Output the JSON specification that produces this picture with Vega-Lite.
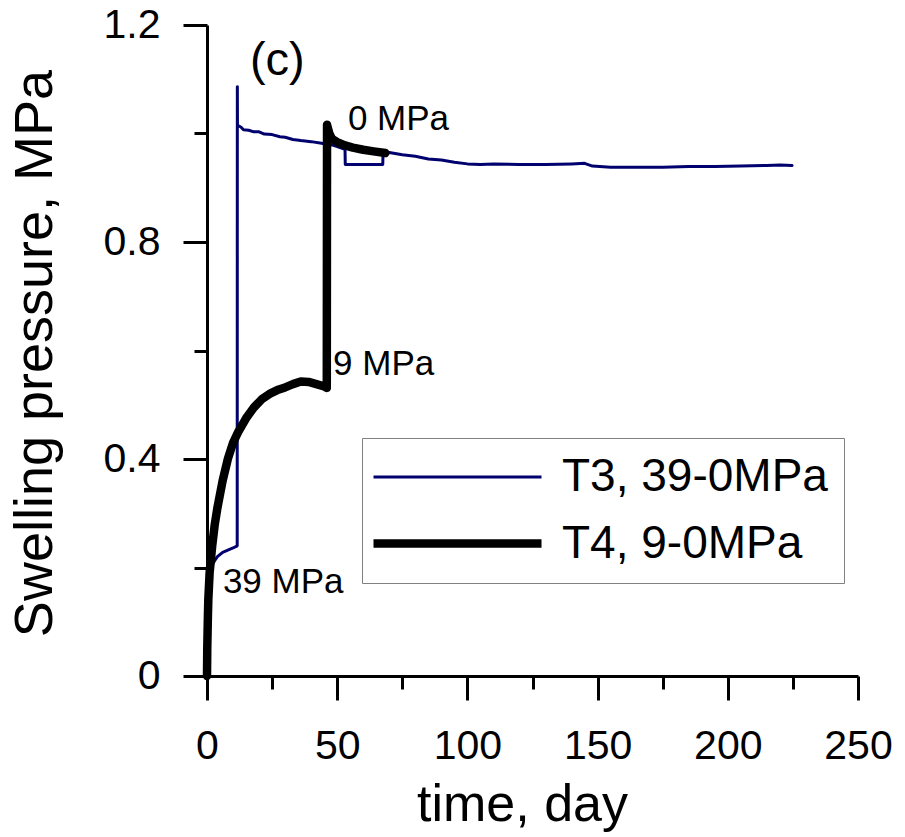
{
  "$schema": "https://vega.github.io/schema/vega-lite/v6.json",
  "autosize": {"type": "none"},
  "padding": {"left": 207, "top": 25, "right": 47, "bottom": 161},
  "width": 651,
  "height": 651,
  "background": "white",
  "config": {
    "view": {"stroke": null},
    "font": "Liberation Sans",
    "axis": {
      "grid": false,
      "domainColor": "black",
      "domainWidth": 3,
      "tickColor": "black",
      "tickWidth": 3,
      "tickSize": 24,
      "labelColor": "black",
      "titleColor": "black",
      "labelFont": "Liberation Sans",
      "titleFont": "Liberation Sans",
      "labelFontSize": 41,
      "titleFontSize": 52,
      "titleFontWeight": "normal"
    },
    "legend": {
      "title": null,
      "orient": "none",
      "legendX": 155,
      "legendY": 413,
      "symbolType": "M-1,0L7,0",
      "symbolSize": 1764,
      "symbolOffset": -9,
      "labelFontSize": 46,
      "labelFont": "Liberation Sans",
      "labelColor": "black",
      "labelLimit": 500,
      "labelOffset": 142,
      "padding": 16,
      "rowPadding": 18,
      "strokeColor": "#808080",
      "fillColor": "white"
    }
  },
  "resolve": {"axis": {"x": "independent", "y": "independent"}},
  "layer": [
    {
      "data": {"values": [
        {"series": "T3, 39-0MPa", "t": 0, "p": 0},
        {"series": "T3, 39-0MPa", "t": 0.2, "p": 0.08},
        {"series": "T3, 39-0MPa", "t": 0.5, "p": 0.15},
        {"series": "T3, 39-0MPa", "t": 1, "p": 0.19},
        {"series": "T3, 39-0MPa", "t": 2, "p": 0.205},
        {"series": "T3, 39-0MPa", "t": 3, "p": 0.213},
        {"series": "T3, 39-0MPa", "t": 4, "p": 0.22},
        {"series": "T3, 39-0MPa", "t": 6, "p": 0.228},
        {"series": "T3, 39-0MPa", "t": 8, "p": 0.232},
        {"series": "T3, 39-0MPa", "t": 10, "p": 0.236},
        {"series": "T3, 39-0MPa", "t": 11.6, "p": 0.24},
        {"series": "T3, 39-0MPa", "t": 11.65, "p": 1.086},
        {"series": "T3, 39-0MPa", "t": 11.7, "p": 1.015},
        {"series": "T3, 39-0MPa", "t": 13, "p": 1.012},
        {"series": "T3, 39-0MPa", "t": 14, "p": 1.007},
        {"series": "T3, 39-0MPa", "t": 16, "p": 1.006},
        {"series": "T3, 39-0MPa", "t": 18, "p": 1.003},
        {"series": "T3, 39-0MPa", "t": 20, "p": 1.003},
        {"series": "T3, 39-0MPa", "t": 22, "p": 0.999},
        {"series": "T3, 39-0MPa", "t": 25, "p": 0.998},
        {"series": "T3, 39-0MPa", "t": 28, "p": 0.994},
        {"series": "T3, 39-0MPa", "t": 30, "p": 0.993},
        {"series": "T3, 39-0MPa", "t": 33, "p": 0.989},
        {"series": "T3, 39-0MPa", "t": 36, "p": 0.987},
        {"series": "T3, 39-0MPa", "t": 40, "p": 0.985},
        {"series": "T3, 39-0MPa", "t": 44, "p": 0.982},
        {"series": "T3, 39-0MPa", "t": 48, "p": 0.979},
        {"series": "T3, 39-0MPa", "t": 50, "p": 0.976},
        {"series": "T3, 39-0MPa", "t": 53, "p": 0.971},
        {"series": "T3, 39-0MPa", "t": 53.1, "p": 0.943},
        {"series": "T3, 39-0MPa", "t": 60, "p": 0.943},
        {"series": "T3, 39-0MPa", "t": 67.5, "p": 0.943},
        {"series": "T3, 39-0MPa", "t": 67.6, "p": 0.964},
        {"series": "T3, 39-0MPa", "t": 70, "p": 0.965},
        {"series": "T3, 39-0MPa", "t": 75, "p": 0.961},
        {"series": "T3, 39-0MPa", "t": 80, "p": 0.958},
        {"series": "T3, 39-0MPa", "t": 85, "p": 0.953},
        {"series": "T3, 39-0MPa", "t": 90, "p": 0.951},
        {"series": "T3, 39-0MPa", "t": 95, "p": 0.947},
        {"series": "T3, 39-0MPa", "t": 100, "p": 0.944},
        {"series": "T3, 39-0MPa", "t": 105, "p": 0.943},
        {"series": "T3, 39-0MPa", "t": 110, "p": 0.944},
        {"series": "T3, 39-0MPa", "t": 120, "p": 0.943},
        {"series": "T3, 39-0MPa", "t": 130, "p": 0.943},
        {"series": "T3, 39-0MPa", "t": 140, "p": 0.944},
        {"series": "T3, 39-0MPa", "t": 145, "p": 0.945},
        {"series": "T3, 39-0MPa", "t": 148, "p": 0.94},
        {"series": "T3, 39-0MPa", "t": 155, "p": 0.938},
        {"series": "T3, 39-0MPa", "t": 165, "p": 0.938},
        {"series": "T3, 39-0MPa", "t": 175, "p": 0.938},
        {"series": "T3, 39-0MPa", "t": 185, "p": 0.939},
        {"series": "T3, 39-0MPa", "t": 195, "p": 0.939},
        {"series": "T3, 39-0MPa", "t": 205, "p": 0.94},
        {"series": "T3, 39-0MPa", "t": 215, "p": 0.941},
        {"series": "T3, 39-0MPa", "t": 220, "p": 0.942},
        {"series": "T3, 39-0MPa", "t": 224.7, "p": 0.941},
        {"series": "T4, 9-0MPa", "t": 0, "p": 0},
        {"series": "T4, 9-0MPa", "t": 0.1, "p": 0.05},
        {"series": "T4, 9-0MPa", "t": 0.3, "p": 0.1},
        {"series": "T4, 9-0MPa", "t": 0.5, "p": 0.14},
        {"series": "T4, 9-0MPa", "t": 1, "p": 0.19},
        {"series": "T4, 9-0MPa", "t": 1.5, "p": 0.215},
        {"series": "T4, 9-0MPa", "t": 2, "p": 0.24},
        {"series": "T4, 9-0MPa", "t": 3, "p": 0.28},
        {"series": "T4, 9-0MPa", "t": 4, "p": 0.31},
        {"series": "T4, 9-0MPa", "t": 5, "p": 0.335},
        {"series": "T4, 9-0MPa", "t": 6, "p": 0.36},
        {"series": "T4, 9-0MPa", "t": 8, "p": 0.4},
        {"series": "T4, 9-0MPa", "t": 10, "p": 0.43},
        {"series": "T4, 9-0MPa", "t": 12, "p": 0.45},
        {"series": "T4, 9-0MPa", "t": 15, "p": 0.475},
        {"series": "T4, 9-0MPa", "t": 18, "p": 0.495},
        {"series": "T4, 9-0MPa", "t": 21, "p": 0.51},
        {"series": "T4, 9-0MPa", "t": 24, "p": 0.52},
        {"series": "T4, 9-0MPa", "t": 27, "p": 0.527},
        {"series": "T4, 9-0MPa", "t": 30, "p": 0.532},
        {"series": "T4, 9-0MPa", "t": 33, "p": 0.538},
        {"series": "T4, 9-0MPa", "t": 36, "p": 0.543},
        {"series": "T4, 9-0MPa", "t": 39, "p": 0.542},
        {"series": "T4, 9-0MPa", "t": 42, "p": 0.538},
        {"series": "T4, 9-0MPa", "t": 45, "p": 0.534},
        {"series": "T4, 9-0MPa", "t": 46, "p": 0.531},
        {"series": "T4, 9-0MPa", "t": 46.1, "p": 1.016},
        {"series": "T4, 9-0MPa", "t": 47, "p": 1.0},
        {"series": "T4, 9-0MPa", "t": 48, "p": 0.99},
        {"series": "T4, 9-0MPa", "t": 50, "p": 0.984},
        {"series": "T4, 9-0MPa", "t": 53, "p": 0.978},
        {"series": "T4, 9-0MPa", "t": 56, "p": 0.974},
        {"series": "T4, 9-0MPa", "t": 60, "p": 0.97},
        {"series": "T4, 9-0MPa", "t": 64, "p": 0.967},
        {"series": "T4, 9-0MPa", "t": 68.5, "p": 0.964}
      ]},
      "mark": {"type": "line", "strokeCap": "round", "strokeJoin": "round", "clip": false},
      "encoding": {
        "x": {
          "field": "t", "type": "quantitative",
          "scale": {"domain": [0, 250], "nice": false, "zero": false},
          "axis": {
            "orient": "bottom",
            "title": "time, day",
            "values": [0, 50, 100, 150, 200, 250],
            "labelPadding": 26,
            "labelFlush": false,
            "labelOverlap": false,
            "titleX": 315,
            "titleY": 144,
            "titleBaseline": "alphabetic",
            "titleAlign": "center"
          }
        },
        "y": {
          "field": "p", "type": "quantitative",
          "scale": {"domain": [0, 1.2], "nice": false, "zero": false},
          "axis": {
            "orient": "left",
            "title": "Swelling pressure, MPa",
            "values": [0, 0.4, 0.8, 1.2],
            "labelExpr": "datum.value === 0 ? '0' : format(datum.value, '.1f')",
            "labelPadding": 23,
            "labelFlush": false,
            "labelOverlap": false,
            "titleX": -156,
            "titleY": 328,
            "titleAngle": -90,
            "titleBaseline": "alphabetic",
            "titleAlign": "center",
            "titleFontSize": 54
          }
        },
        "color": {
          "field": "series", "type": "ordinal",
          "scale": {"domain": ["T3, 39-0MPa", "T4, 9-0MPa"], "range": ["#00006e", "#000000"]}
        },
        "strokeWidth": {
          "field": "series", "type": "ordinal",
          "scale": {"domain": ["T3, 39-0MPa", "T4, 9-0MPa"], "range": [3, 8.5]}
        }
      }
    },
    {
      "data": {"values": [
        {"t": 6.1, "p": 0.153, "label": "39 MPa"},
        {"t": 48.4, "p": 0.555, "label": "9 MPa"},
        {"t": 54.1, "p": 1.006, "label": "0 MPa"}
      ]},
      "mark": {"type": "text", "align": "left", "baseline": "alphabetic", "fontSize": 35, "font": "Liberation Sans", "color": "black"},
      "encoding": {
        "x": {
          "field": "t", "type": "quantitative",
          "axis": {"orient": "bottom", "values": [25, 75, 125, 175, 225], "labels": false, "domain": false, "title": null, "tickSize": 13}
        },
        "y": {
          "field": "p", "type": "quantitative",
          "axis": {"orient": "left", "values": [0.2, 0.6, 1.0], "labels": false, "domain": false, "title": null, "tickSize": 13}
        },
        "text": {"field": "label"}
      }
    },
    {
      "data": {"values": [
        {"t": 16.5, "p": 1.108, "label": "(c)"}
      ]},
      "mark": {"type": "text", "align": "left", "baseline": "alphabetic", "fontSize": 47, "font": "Liberation Sans", "color": "black"},
      "encoding": {
        "x": {"field": "t", "type": "quantitative", "axis": null},
        "y": {"field": "p", "type": "quantitative", "axis": null},
        "text": {"field": "label"}
      }
    }
  ]
}
